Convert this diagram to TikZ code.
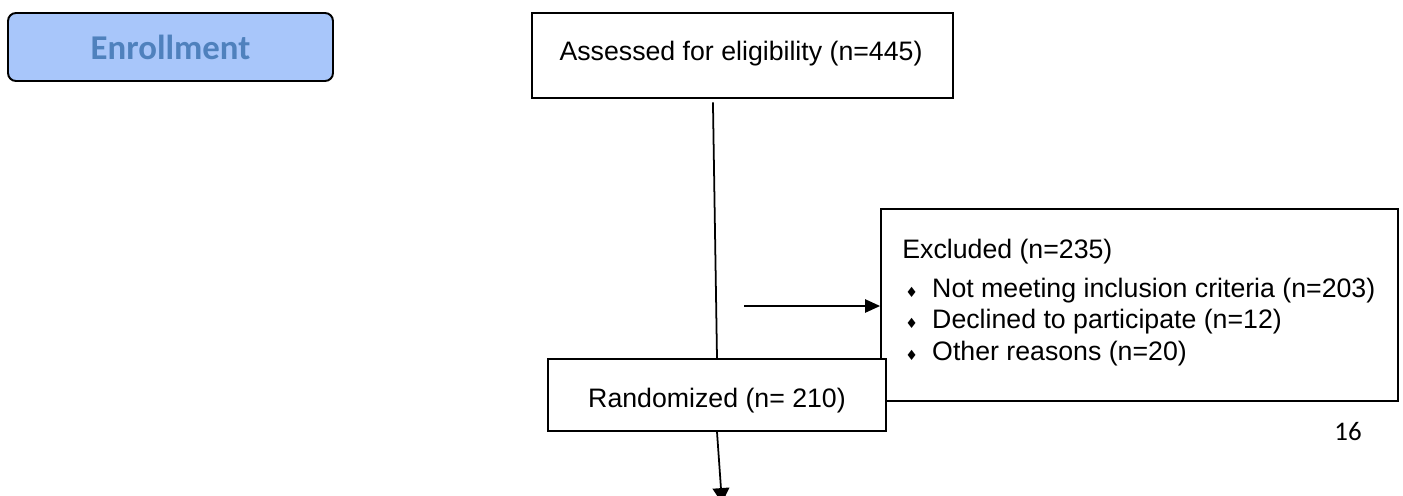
\documentclass[tikz,border=0pt]{standalone}
\usepackage{fontspec}
\setmainfont{Liberation Sans}
\newfontfamily\calibri{Carlito}
\newfontfamily\symfont{DejaVu Sans}
\usepackage{xcolor}
\usepackage{tikz}
\usetikzlibrary{arrows.meta,calc}
\definecolor{enrollfill}{RGB}{168,198,250}
\definecolor{enrolltext}{RGB}{79,129,189}
\newcommand{\itemmark}{\makebox[17pt][l]{\hspace{1.7pt}{\symfont\fontsize{8}{8}\selectfont ♦}}}

\begin{document}
\begin{tikzpicture}[x=0.02cm,y=-0.02cm,
	box/.style={draw,line width=1.1pt,fill=white,inner sep=0pt},
	flowtext/.style={anchor=base,inner sep=0pt,font=\fontsize{15.2}{17.9}\selectfont},
	flowline/.style={line width=1pt},
	flowarrow/.style={line width=1pt,-{Triangle[length=8.5pt,width=7.5pt]}}]
	\useasboundingbox (0,0) rectangle (1403,495);
	% enrollment tag
	\node at(170.5,47)[box,rounded corners=4.5pt,fill=enrollfill,minimum width=6.5cm,minimum height=1.36cm,text=enrolltext,font=\calibri\bfseries\fontsize{19.8}{24}\selectfont](enroll){Enrollment};
	% assessed
	\node at(742.5,55.5)[box,minimum width=8.42cm,minimum height=1.7cm](assess){};
	\node at(741,60)[flowtext](assesstext){Assessed for eligibility (n=445)};
	% excluded
	\node at(1139.5,305)[box,minimum width=10.34cm,minimum height=3.84cm](excl){};
	\node at(902,258)[flowtext,anchor=base west](excltitle){Excluded (n=235)};
	\node at(902,297)[flowtext,anchor=base west](exclone){\itemmark Not meeting inclusion criteria (n=203)};
	\node at(902,328.5)[flowtext,anchor=base west](excltwo){\itemmark Declined to participate (n=12)};
	\node at(902,360)[flowtext,anchor=base west](exclthree){\itemmark Other reasons (n=20)};
	% randomized
	\node at(717,395)[box,minimum width=6.76cm,minimum height=1.44cm](rand){};
	\node at(717,407)[flowtext](randtext){Randomized (n= 210)};
	% page number
	\node at(1348,440.5)[anchor=base,inner sep=0pt,font=\calibri\fontsize{15.3}{18}\selectfont](pagenum){16};
	% connectors
	\draw[flowline,shorten <=2pt] ($(assess.south west)!0.43!(assess.south east)$) -- (rand.north);
	\coordinate (exclfrom) at (744,306);
	\draw[flowarrow] (exclfrom) -- (exclfrom -| excl.west);
	\coordinate (randto) at (722,503);
	\draw[flowline,-{Triangle[length=8.5pt,width=9.5pt]}] (rand.south) -- (randto);
\end{tikzpicture}
\end{document}
